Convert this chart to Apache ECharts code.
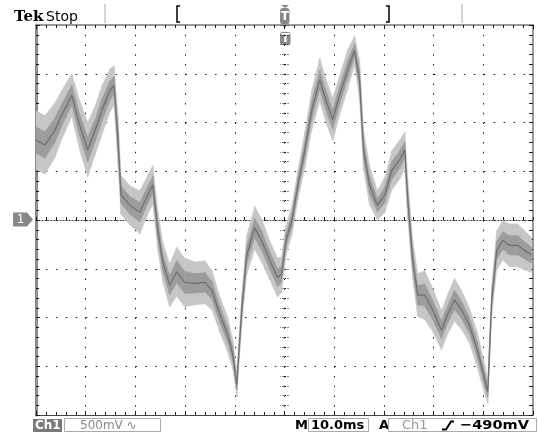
<!DOCTYPE html>
<html>
<head>
<meta charset="utf-8">
<script src="https://cdn.jsdelivr.net/npm/echarts@6/dist/echarts.min.js"></script>
<style>
  html, body { margin: 0; padding: 0; background: #fff; }
  #chart { width: 538px; height: 439px; }
</style>
</head>
<body>
<div id="chart"></div>
<script>
// time (ms) of each sample, 10 ms/div
var times = [0, 1.8, 3.8, 5.2, 7.2, 8.8, 10.4, 11.9, 13.3, 14.9, 15.7, 16.5, 17.1, 18.9, 20.9,
  22.5, 23.5, 24.5, 25.5, 26.9, 28.3, 29.9, 32.0, 34.0, 35.4, 37.0, 38.6, 39.6, 40.4, 41.4,
  42.4, 44.0, 45.4, 47.0, 48.6, 49.4, 50.3, 51.5, 52.7, 54.1, 55.5, 57.1, 58.3, 59.7, 61.1,
  62.7, 64.1, 65.1, 65.9, 67.1, 68.7, 70.2, 71.6, 73.2, 74.2, 74.8, 75.8, 76.8, 78.2, 79.8,
  81.6, 82.8, 84.2, 85.6, 87.2, 88.8, 90.3, 90.9, 91.7, 92.7, 93.9, 95.3, 96.9, 98.3, 99.7]
// centre of the trace (V), 500 mV/div
var traceMid = [0.82, 0.77, 0.92, 1.08, 1.28, 0.97, 0.72, 0.92, 1.13, 1.33, 1.38, 0.82, 0.26, 0.15, 0.08,
  0.26, 0.36, -0.10, -0.43, -0.67, -0.53, -0.64, -0.65, -0.64, -0.72, -0.97, -1.18, -1.38, -1.69, -0.92,
  -0.36, -0.08, -0.21, -0.41, -0.59, -0.56, -0.21, 0.00, 0.36, 0.72, 1.13, 1.44, 1.23, 1.03, 1.28,
  1.54, 1.74, 1.44, 0.72, 0.36, 0.15, 0.26, 0.51, 0.62, 0.72, 0.21, -0.41, -0.77, -0.77, -0.92,
  -1.13, -0.97, -0.82, -0.92, -1.08, -1.33, -1.64, -1.76, -0.82, -0.31, -0.21, -0.26, -0.26, -0.31, -0.36]
// half height of the noise band (V)
var traceSpread = [0.30, 0.30, 0.28, 0.25, 0.22, 0.25, 0.28, 0.25, 0.25, 0.22, 0.20, 0.25, 0.20, 0.20, 0.22,
  0.20, 0.20, 0.20, 0.20, 0.22, 0.25, 0.25, 0.22, 0.22, 0.20, 0.18, 0.18, 0.15, 0.12, 0.15,
  0.20, 0.22, 0.22, 0.20, 0.20, 0.18, 0.15, 0.15, 0.15, 0.18, 0.20, 0.22, 0.22, 0.22, 0.20,
  0.20, 0.15, 0.20, 0.20, 0.20, 0.15, 0.18, 0.20, 0.20, 0.18, 0.20, 0.20, 0.22, 0.25, 0.22,
  0.20, 0.20, 0.22, 0.20, 0.18, 0.18, 0.15, 0.12, 0.15, 0.20, 0.20, 0.22, 0.22, 0.20, 0.18]

var chart = echarts.init(document.getElementById('chart'))

function bandSeries(scale, color) {
  return {
    type: 'custom',
    xAxisIndex: 0,
    yAxisIndex: 0,
    clip: true,
    silent: true,
    data: times.map(function (t, i) { return [t, traceMid[i]] }),
    encode: { x: 0, y: 1 },
    renderItem: function (params, api) {
      var i = params.dataIndex
      if (i >= times.length - 1) return
      var a = api.coord([times[i], traceMid[i] + traceSpread[i] * scale])
      var b = api.coord([times[i + 1], traceMid[i + 1] + traceSpread[i + 1] * scale])
      var c = api.coord([times[i + 1], traceMid[i + 1] - traceSpread[i + 1] * scale])
      var d = api.coord([times[i], traceMid[i] - traceSpread[i] * scale])
      return {
        type: 'polygon',
        shape: { points: [a, b, c, d] },
        style: { fill: color, stroke: color, lineWidth: 0.6 }
      }
    }
  }
}

function label(x, y, text, font, fill, align, extra) {
  var el = { type: 'text', x: x, y: y, style: { text: text, font: font, fill: fill, align: align || 'left', verticalAlign: 'middle' } }
  if (extra) Object.assign(el, extra)
  return el
}

var dots = '#1a1a1a'
var hideLabel = { show: false }
var statusFont = 'bold 13px "DejaVu Sans"'
var statusY = 426

chart.setOption({
  animation: false,
  backgroundColor: '#fff',
  grid: { left: 36, right: 5, top: 25, bottom: 24 },
  xAxis: [
    { // bottom frame + graticule columns
      type: 'value', min: 0, max: 100, interval: 10, position: 'bottom',
      axisLine: { onZero: false, lineStyle: { color: '#444', width: 1 } },
      axisTick: { inside: true, length: 4, lineStyle: { color: dots } },
      minorTick: { show: true, splitNumber: 5, length: 3, lineStyle: { color: dots } },
      axisLabel: hideLabel,
      splitLine: { show: true, lineStyle: { color: dots, width: 1, type: [1.5, 8.25] } }
    },
    { // top frame
      type: 'value', min: 0, max: 100, interval: 10, position: 'top',
      axisLine: { onZero: false, lineStyle: { color: '#999', width: 2 } },
      axisTick: { inside: true, length: 4, lineStyle: { color: dots } },
      minorTick: { show: true, splitNumber: 5, length: 3, lineStyle: { color: dots } },
      axisLabel: hideLabel,
      splitLine: { show: false }
    },
    { // centre horizontal line
      type: 'value', min: 0, max: 100, interval: 10, position: 'bottom',
      axisLine: { onZero: true, lineStyle: { color: '#333', width: 1, type: [1, 2] } },
      axisTick: { inside: true, length: 3, lineStyle: { color: dots } },
      minorTick: { show: true, splitNumber: 5, length: 3, lineStyle: { color: dots } },
      axisLabel: hideLabel,
      splitLine: { show: false }
    }
  ],
  yAxis: [
    { // left frame + graticule rows
      type: 'value', min: -2, max: 2, interval: 0.5, position: 'left',
      axisLine: { onZero: false, lineStyle: { color: '#8a8a8a', width: 3 } },
      axisTick: { inside: true, length: 4, lineStyle: { color: dots } },
      minorTick: { show: true, splitNumber: 5, length: 3, lineStyle: { color: dots } },
      axisLabel: hideLabel,
      splitLine: { show: true, lineStyle: { color: dots, width: 1, type: [1.5, 8.45] } }
    },
    { // right frame
      type: 'value', min: -2, max: 2, interval: 0.5, position: 'right',
      axisLine: { onZero: false, lineStyle: { color: '#999', width: 2 } },
      axisTick: { inside: true, length: 4, lineStyle: { color: dots } },
      minorTick: { show: true, splitNumber: 5, length: 4, lineStyle: { color: dots } },
      axisLabel: hideLabel,
      splitLine: { show: false }
    },
    { // centre vertical ticks
      type: 'value', min: -2, max: 2, interval: 0.5, position: 'left', offset: -252.5,
      axisLine: { show: false, onZero: false },
      axisTick: { inside: false, length: 8, lineStyle: { color: dots, type: [1, 1.5] } },
      minorTick: { show: true, splitNumber: 5, length: 8, lineStyle: { color: dots, type: [1, 1.5] } },
      axisLabel: hideLabel,
      splitLine: { show: false }
    }
  ],
  series: [
    bandSeries(1, '#c6c6c6'),
    bandSeries(0.45, '#9c9c9c'),
    {
      type: 'line',
      xAxisIndex: 0,
      yAxisIndex: 0,
      data: times.map(function (t, i) { return [t, traceMid[i]] }),
      showSymbol: false,
      lineStyle: { color: '#6e6e6e', width: 1.2 },
      z: 3
    }
  ],
  graphic: [
    // header
    label(14, 17, 'Tek', 'bold 15px "DejaVu Serif"', '#000'),
    label(46, 17, 'Stop', '14px "DejaVu Sans"', '#000'),
    { type: 'line', shape: { x1: 105, y1: 4, x2: 105, y2: 23 }, style: { stroke: '#aaa', lineWidth: 1 } },
    { type: 'polyline', shape: { points: [[180, 6], [177, 6], [177, 22], [180, 22]] }, style: { stroke: '#000', lineWidth: 1.5, fill: null } },
    { type: 'polyline', shape: { points: [[386, 6], [389, 6], [389, 22], [386, 22]] }, style: { stroke: '#000', lineWidth: 1.5, fill: null } },
    { type: 'line', shape: { x1: 462, y1: 4, x2: 462, y2: 23 }, style: { stroke: '#aaa', lineWidth: 1 } },
    { type: 'polygon', shape: { points: [[281, 5], [289, 5], [285, 8]] }, style: { fill: '#888' } },
    { type: 'rect', shape: { x: 280, y: 8, width: 9.5, height: 16, r: 3 }, style: { fill: '#888' } },
    { type: 'polygon', shape: { points: [[280.5, 23], [289, 23], [284.75, 28]] }, style: { fill: '#888' } },
    label(284.75, 16.5, 'T', 'bold 12px "DejaVu Sans"', '#fff', 'center'),
    { type: 'rect', shape: { x: 280, y: 32, width: 10.5, height: 13, r: 2.5 }, style: { fill: '#888' } },
    label(285.25, 38.5, 'T', 'bold 12px "DejaVu Sans"', '#fff', 'center'),
    // channel 1 ground marker
    { type: 'polygon', shape: { points: [[13, 212.5], [27, 212.5], [33, 219.5], [27, 226.5], [13, 226.5]] }, style: { fill: '#888' } },
    label(20.5, 219.5, '1', '12px "DejaVu Sans"', '#fff', 'center'),
    // status line
    { type: 'rect', shape: { x: 33, y: 419, width: 29, height: 13 }, style: { fill: '#7a7a7a' } },
    label(35, statusY, 'Ch1', 'bold 12px "DejaVu Sans"', '#fff'),
    { type: 'rect', shape: { x: 64.5, y: 418.5, width: 96, height: 13 }, style: { fill: null, stroke: '#aaa', lineWidth: 1 } },
    label(80, statusY, '500mV \u223F', '12px "DejaVu Sans"', '#888'),
    label(295, statusY, 'M', statusFont, '#000'),
    { type: 'rect', shape: { x: 308.5, y: 418.5, width: 60, height: 13 }, style: { fill: null, stroke: '#aaa', lineWidth: 1 } },
    label(311, statusY, '10.0ms', statusFont, '#000'),
    label(379, statusY, 'A', statusFont, '#000'),
    { type: 'rect', shape: { x: 388.5, y: 418.5, width: 148, height: 13 }, style: { fill: null, stroke: '#aaa', lineWidth: 1 } },
    label(402, statusY, 'Ch1', '13px "DejaVu Sans"', '#999'),
    { type: 'polyline', shape: { points: [[442, 429.5], [446, 429.5], [448.5, 425.5], [451, 421.5], [454, 421.5]] }, style: { stroke: '#000', lineWidth: 2, fill: null } },
    label(460, statusY, '\u2212490mV', statusFont, '#000', 'left', { scaleX: 1.12 })
  ]
})
</script>
</body>
</html>
